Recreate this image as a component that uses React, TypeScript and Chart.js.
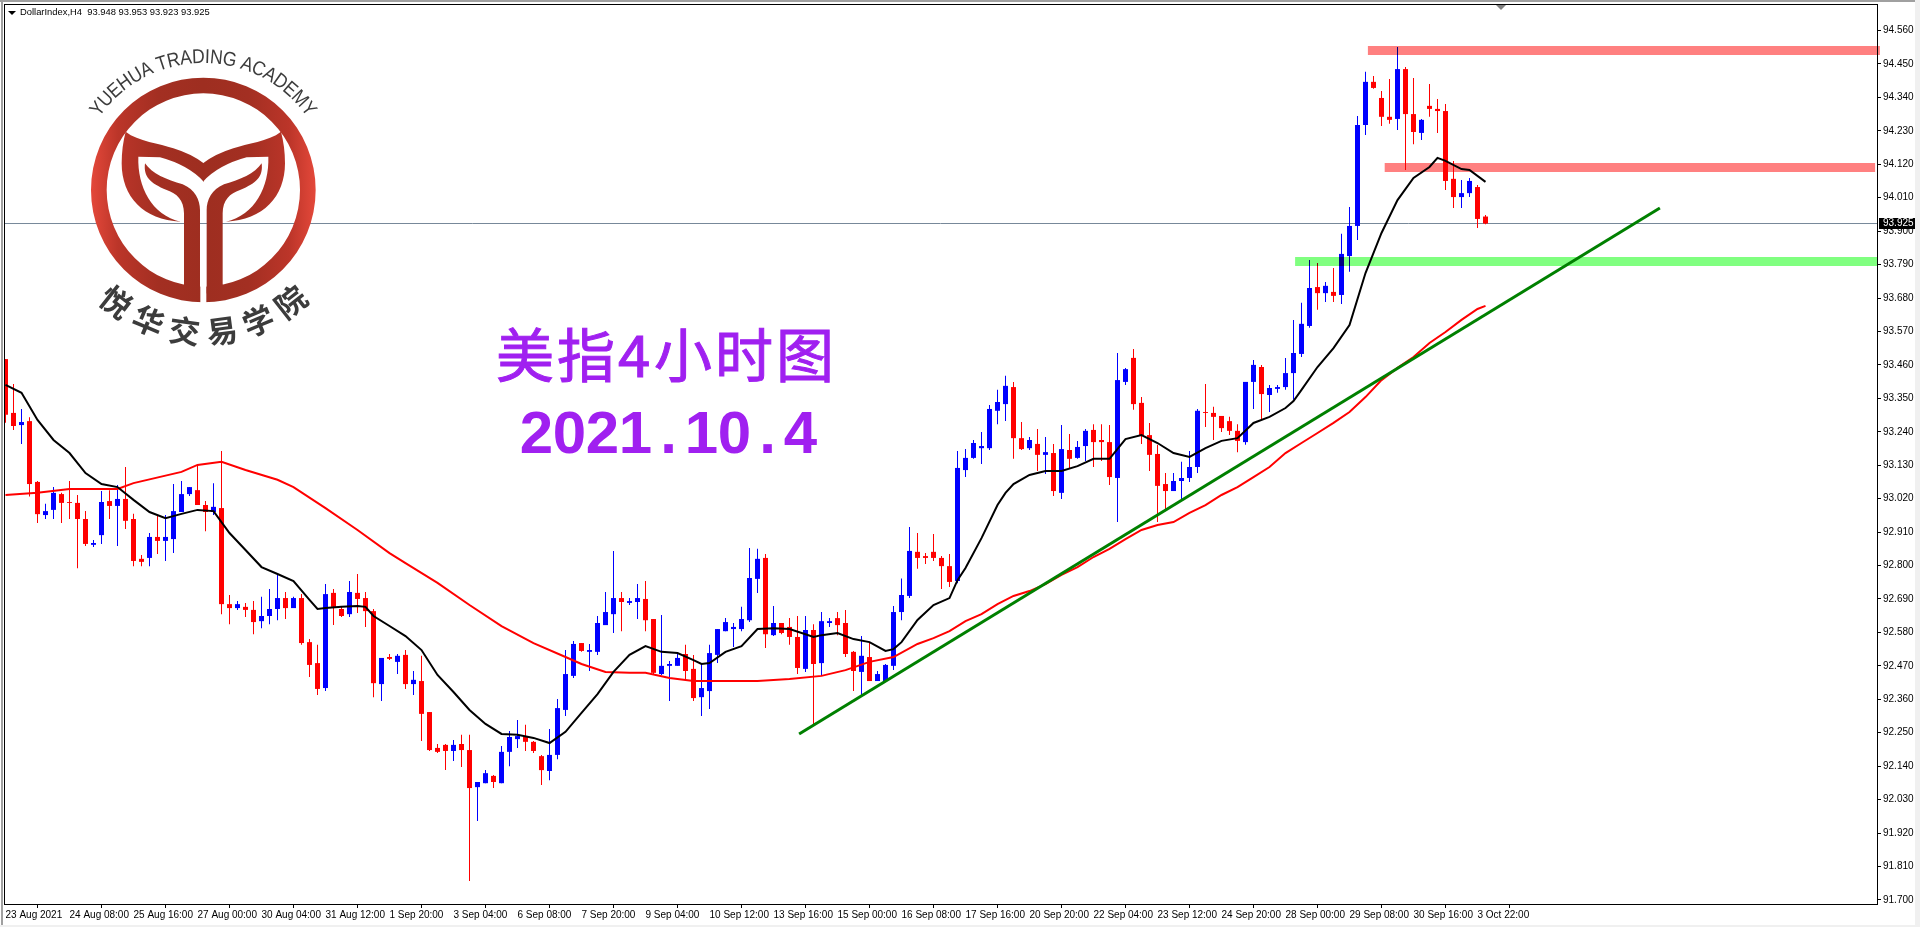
import React, { useEffect, useRef } from "react";
import { Chart, registerables } from "chart.js";

Chart.register(...registerables);

const opens = [93.479,93.302,93.262,93.275,93.075,92.966,92.983,93.035,93.009,93.006,92.953,92.868,92.900,93.012,92.996,93.019,92.953,92.822,92.825,92.894,92.881,92.887,92.976,93.035,93.048,92.999,92.976,92.989,92.673,92.660,92.664,92.654,92.617,92.634,92.657,92.693,92.660,92.693,92.548,92.479,92.397,92.710,92.657,92.640,92.710,92.693,92.650,92.410,92.499,92.483,92.506,92.410,92.420,92.318,92.200,92.210,92.190,92.213,92.193,92.071,92.084,92.108,92.084,92.187,92.229,92.236,92.220,92.173,92.124,92.177,92.325,92.437,92.545,92.516,92.516,92.604,92.640,92.693,92.677,92.680,92.690,92.624,92.443,92.470,92.470,92.509,92.460,92.367,92.387,92.506,92.584,92.591,92.591,92.620,92.756,92.825,92.571,92.611,92.598,92.565,92.460,92.588,92.479,92.611,92.627,92.611,92.516,92.450,92.499,92.420,92.420,92.470,92.647,92.700,92.845,92.831,92.845,92.825,92.798,92.749,93.114,93.154,93.186,93.186,93.309,93.331,93.387,93.219,93.186,93.200,93.164,93.170,93.039,93.180,93.154,93.193,93.246,93.213,93.206,93.088,93.404,93.483,93.335,93.229,93.167,93.068,93.045,93.078,93.088,93.124,93.305,93.302,93.292,93.275,93.243,93.206,93.404,93.453,93.361,93.381,93.387,93.433,93.496,93.588,93.716,93.696,93.700,93.690,93.818,93.917,94.249,94.391,94.338,94.276,94.269,94.433,94.285,94.223,94.312,94.302,94.295,94.072,94.012,94.025,94.045,93.948];

const closes = [93.296,93.259,93.272,93.068,92.969,92.979,93.039,93.006,93.006,92.953,92.871,92.874,93.009,92.996,93.019,92.947,92.815,92.812,92.894,92.881,92.894,92.979,93.035,93.058,92.999,92.976,92.993,92.673,92.660,92.673,92.654,92.614,92.634,92.657,92.693,92.660,92.693,92.545,92.473,92.394,92.706,92.664,92.634,92.713,92.690,92.650,92.413,92.496,92.493,92.503,92.410,92.424,92.312,92.193,92.187,92.190,92.210,92.193,92.068,92.088,92.117,92.088,92.187,92.236,92.239,92.220,92.190,92.127,92.177,92.331,92.443,92.542,92.519,92.522,92.611,92.647,92.693,92.680,92.683,92.693,92.620,92.447,92.470,92.476,92.496,92.453,92.364,92.397,92.512,92.591,92.614,92.598,92.624,92.759,92.822,92.574,92.611,92.578,92.565,92.463,92.588,92.476,92.617,92.617,92.604,92.509,92.453,92.503,92.420,92.443,92.473,92.647,92.703,92.848,92.825,92.825,92.825,92.798,92.746,93.121,93.154,93.203,93.193,93.315,93.338,93.391,93.219,93.183,93.213,93.164,93.173,93.045,93.183,93.151,93.190,93.243,93.206,93.206,93.091,93.410,93.446,93.331,93.229,93.164,93.062,93.045,93.078,93.088,93.124,93.309,93.302,93.289,93.252,93.243,93.210,93.404,93.460,93.364,93.384,93.387,93.433,93.499,93.595,93.713,93.696,93.720,93.687,93.825,93.917,94.249,94.391,94.371,94.276,94.266,94.433,94.285,94.226,94.266,94.302,94.295,94.065,94.012,94.025,94.065,93.940,93.925];

const highs = [93.479,93.397,93.315,93.288,93.078,93.003,93.058,93.039,93.078,93.032,92.979,92.884,93.045,93.048,93.065,93.124,92.970,92.835,92.907,92.963,92.966,93.068,93.078,93.058,93.131,93.012,93.071,93.177,92.703,92.683,92.677,92.683,92.697,92.723,92.769,92.713,92.697,92.706,92.558,92.539,92.739,92.723,92.667,92.749,92.772,92.713,92.657,92.496,92.509,92.509,92.522,92.453,92.503,92.318,92.213,92.213,92.226,92.243,92.243,92.088,92.127,92.111,92.206,92.256,92.292,92.276,92.223,92.177,92.262,92.361,92.522,92.552,92.545,92.542,92.634,92.713,92.848,92.713,92.693,92.739,92.749,92.624,92.637,92.486,92.509,92.539,92.506,92.476,92.539,92.591,92.627,92.611,92.664,92.858,92.855,92.838,92.667,92.611,92.627,92.634,92.634,92.607,92.647,92.627,92.647,92.654,92.519,92.568,92.548,92.453,92.476,92.667,92.757,92.927,92.907,92.841,92.904,92.831,92.838,93.177,93.183,93.213,93.239,93.328,93.378,93.424,93.404,93.272,93.223,93.249,93.223,93.200,93.262,93.233,93.210,93.249,93.265,93.265,93.262,93.499,93.450,93.512,93.354,93.269,93.197,93.104,93.104,93.141,93.177,93.315,93.397,93.322,93.292,93.289,93.265,93.404,93.476,93.460,93.394,93.394,93.483,93.608,93.664,93.805,93.795,93.733,93.779,93.891,93.979,94.279,94.424,94.410,94.361,94.400,94.506,94.440,94.404,94.269,94.384,94.335,94.318,94.131,94.068,94.075,94.052,93.953];

const lows = [93.270,93.246,93.200,93.027,92.940,92.953,92.953,92.940,92.953,92.791,92.864,92.861,92.871,92.953,92.864,92.920,92.798,92.798,92.798,92.838,92.815,92.841,92.976,93.029,92.999,92.913,92.966,92.640,92.607,92.654,92.631,92.574,92.594,92.607,92.620,92.624,92.660,92.539,92.433,92.374,92.387,92.604,92.631,92.631,92.644,92.598,92.367,92.354,92.489,92.443,92.394,92.374,92.223,92.190,92.183,92.127,92.157,92.137,91.762,91.960,92.084,92.068,92.084,92.140,92.200,92.190,92.183,92.078,92.094,92.163,92.305,92.430,92.516,92.453,92.506,92.604,92.578,92.584,92.670,92.624,92.584,92.440,92.440,92.354,92.470,92.424,92.354,92.305,92.328,92.479,92.584,92.532,92.584,92.614,92.710,92.529,92.568,92.574,92.539,92.443,92.450,92.279,92.437,92.598,92.571,92.499,92.387,92.374,92.420,92.420,92.420,92.456,92.620,92.693,92.789,92.805,92.815,92.723,92.729,92.742,93.091,93.151,93.134,93.180,93.265,93.275,93.151,93.180,93.180,93.111,93.101,93.029,93.019,93.121,93.151,93.144,93.124,93.144,93.065,92.943,93.394,93.312,93.200,93.111,92.943,92.983,93.045,93.019,93.075,93.104,93.256,93.213,93.239,93.229,93.173,93.197,93.315,93.279,93.305,93.368,93.378,93.345,93.486,93.582,93.641,93.667,93.667,93.660,93.766,93.871,94.216,94.368,94.246,94.253,94.233,94.101,94.186,94.200,94.276,94.223,94.035,93.976,93.976,94.012,93.910,93.923];

const timeLabels = ["23 Aug 2021","24 Aug 08:00","25 Aug 16:00","27 Aug 00:00","30 Aug 04:00","31 Aug 12:00","1 Sep 20:00","3 Sep 04:00","6 Sep 08:00","7 Sep 20:00","9 Sep 04:00","10 Sep 12:00","13 Sep 16:00","15 Sep 00:00","16 Sep 08:00","17 Sep 16:00","20 Sep 20:00","22 Sep 04:00","23 Sep 12:00","24 Sep 20:00","28 Sep 00:00","29 Sep 08:00","30 Sep 16:00","3 Oct 22:00"];
const timeLabelBars = timeLabels.map((_, k) => k * 8);

const priceTicks = [94.56,94.45,94.34,94.23,94.12,94.01,93.90,93.79,93.68,93.57,93.46,93.35,93.24,93.13,93.02,92.91,92.80,92.69,92.58,92.47,92.36,92.25,92.14,92.03,91.92,91.81,91.70];

const blackBars = [0,2,4,6,8,10,12,14,16,18,20,22,24,26,28,30,32,34,36,38,39,40,42,44,45,46,48,50,52,54,56,58,60,62,64,66,68,70,72,74,76,78,80,82,84,86,87,88,90,92,94,96,98,100,101,102,104,106,108,110,111,112,114,116,118,119,120,122,124,125,126,128,130,132,134,136,138,140,142,144,146,148,150,152,154,156,158,160,161,162,164,166,168,170,172,174,176,178,179,180,182,183,185];
const blackValues = [93.394,93.368,93.279,93.213,93.170,93.104,93.068,93.058,93.016,92.976,92.956,92.970,92.983,92.979,92.907,92.851,92.795,92.772,92.749,92.687,92.657,92.660,92.664,92.667,92.664,92.634,92.601,92.568,92.522,92.440,92.384,92.325,92.279,92.246,92.243,92.233,92.216,92.253,92.315,92.377,92.450,92.506,92.535,92.516,92.512,92.489,92.476,92.479,92.516,92.535,92.591,92.594,92.591,92.574,92.565,92.571,92.578,92.558,92.548,92.519,92.525,92.548,92.621,92.670,92.693,92.752,92.792,92.890,92.999,93.039,93.068,93.098,93.111,93.111,93.127,93.151,93.151,93.216,93.229,93.203,93.170,93.157,93.186,93.210,93.219,93.269,93.289,93.318,93.341,93.378,93.453,93.515,93.591,93.762,93.894,94.002,94.075,94.111,94.141,94.131,94.104,94.101,94.062];

const redBars = [0,4,8,14,16,22,24,27,30,34,36,40,44,48,50,54,58,62,66,70,72,75,78,80,83,86,90,94,98,102,105,108,111,114,116,118,120,122,124,126,128,130,132,134,136,138,140,142,144,146,148,150,152,154,156,158,160,162,164,166,168,170,172,174,176,178,180,182,184,185];
const redValues = [93.032,93.039,93.052,93.052,93.071,93.108,93.131,93.141,93.114,93.082,93.058,92.989,92.917,92.841,92.808,92.743,92.670,92.601,92.545,92.499,92.476,92.450,92.447,92.447,92.430,92.420,92.420,92.420,92.427,92.437,92.456,92.483,92.499,92.542,92.561,92.584,92.617,92.640,92.673,92.700,92.716,92.739,92.769,92.795,92.828,92.855,92.887,92.917,92.933,92.943,92.973,92.999,93.032,93.058,93.091,93.124,93.170,93.203,93.236,93.269,93.305,93.354,93.410,93.450,93.486,93.532,93.568,93.608,93.644,93.654];

const trendBars = [99.2, 206.8];
const trendValues = [92.246, 93.976];

const lastPrice = 93.925;
const resistanceHigh = 94.494;
const resistanceLow = 94.109;
const supportLevel = 93.8;
const resistanceHighBars = [170.3, 234.3];
const resistanceLowBars = [172.4, 233.7];
const supportBars = [161.2, 233.94];

const headerText = "DollarIndex,H4  93.948 93.953 93.923 93.925";
const titleCn = "美指4小时图";
const titleDate = "2021.10.4";
const logoEn = "YUEHUA TRADING ACADEMY";
const logoCn = "悦华交易学院";

const X_MIN = -0.1875;
const X_MAX = 233.9375;
const Y_MAX = 94.6471;
const Y_MIN = 91.6866;

const pairs = (xs: number[], ys: number[]) => xs.map((x, k) => ({ x, y: ys[k] }));
const flat = (xs: number[], y: number) => xs.map((x) => ({ x, y }));

const bars = opens.map((_, i) => i);
const colourOf = (i: number) => (closes[i] >= opens[i] ? "#0000ff" : "#ff0000");

const drawLogo = (ctx: CanvasRenderingContext2D) => {
  ctx.save();
  ctx.translate(60, 0);
  ctx.scale(1 / 3, 1 / 3);
  const g = ctx.createLinearGradient(93, 0, 767, 0);
  g.addColorStop(0, "#e4483a");
  g.addColorStop(0.12, "#bb3529");
  g.addColorStop(0.3, "#a32f22");
  g.addColorStop(0.5, "#9e2e20");
  g.addColorStop(0.7, "#a32f22");
  g.addColorStop(0.88, "#bb3529");
  g.addColorStop(1, "#e4483a");
  ctx.fillStyle = g;
  ctx.beginPath();
  ctx.arc(430, 570, 337, 0, Math.PI * 2);
  ctx.arc(430, 570, 290, 0, Math.PI * 2, true);
  ctx.fill();
  const half = () => {
    ctx.beginPath();
    ctx.moveTo(197, 395);
    ctx.bezierCurveTo(235, 425, 300, 430, 340, 445);
    ctx.quadraticCurveTo(395, 462, 431, 490);
    ctx.lineTo(431, 545);
    ctx.quadraticCurveTo(385, 495, 300, 472);
    ctx.lineTo(235, 470);
    ctx.bezierCurveTo(232, 560, 275, 645, 362, 665);
    ctx.bezierCurveTo(250, 660, 185, 590, 185, 490);
    ctx.quadraticCurveTo(185, 440, 197, 395);
    ctx.closePath();
    ctx.fill();
    ctx.beginPath();
    ctx.moveTo(255, 490);
    ctx.bezierCurveTo(275, 520, 320, 540, 368, 553);
    ctx.bezierCurveTo(405, 568, 420, 600, 420, 630);
    ctx.lineTo(420, 880);
    ctx.quadraticCurveTo(410, 897, 385, 903);
    ctx.lineTo(360, 880);
    ctx.lineTo(372, 853);
    ctx.lineTo(372, 640);
    ctx.bezierCurveTo(372, 600, 350, 580, 320, 570);
    ctx.bezierCurveTo(270, 550, 250, 530, 255, 490);
    ctx.closePath();
    ctx.fill();
  };
  ctx.fillStyle = "#ffffff";
  ctx.fillRect(421, 840, 18, 75);
  ctx.fillStyle = g;
  half();
  ctx.save();
  ctx.translate(860, 0);
  ctx.scale(-1, 1);
  half();
  ctx.restore();
  ctx.restore();

  const cx = 203.3;
  const cy = 190;
  ctx.fillStyle = "#3c3c3c";
  ctx.textAlign = "center";
  ctx.textBaseline = "alphabetic";
  ctx.font = "20px 'Liberation Sans'";
  const widths = Array.from(logoEn).map((c) => ctx.measureText(c).width);
  const total = widths.reduce((a, b) => a + b, 0);
  const span = (110 * Math.PI) / 180;
  let run = 0;
  Array.from(logoEn).forEach((c, k) => {
    const a = -span / 2 + ((run + widths[k] / 2) / total) * span;
    run += widths[k];
    ctx.save();
    ctx.translate(cx + 127 * Math.sin(a), cy - 127 * Math.cos(a));
    ctx.rotate(a);
    ctx.scale(0.88, 1);
    ctx.fillText(c, 0, 0);
    ctx.restore();
  });
  ctx.font = "bold 31px 'Noto Sans CJK SC'";
  ctx.textBaseline = "middle";
  Array.from(logoCn).forEach((c, k) => {
    const a = ((38 - (k * 76) / 5) * Math.PI) / 180;
    ctx.save();
    ctx.translate(cx - 142 * Math.sin(a), cy + 142 * Math.cos(a));
    ctx.rotate(a);
    ctx.fillText(c, 0, 0);
    ctx.restore();
  });
};

const decorations = {
  id: "decorations",
  beforeDraw(chart: any) {
    const { ctx, width, height } = chart;
    ctx.save();
    ctx.fillStyle = "#ffffff";
    ctx.fillRect(0, 0, width, height);
    ctx.restore();
  },
  beforeDatasetDraw(chart: any, args: any) {
    if (chart.data.datasets[args.index].zone) {
      chart.ctx.save();
      chart.ctx.globalCompositeOperation = "multiply";
    }
  },
  afterDatasetDraw(chart: any, args: any) {
    if (chart.data.datasets[args.index].zone) chart.ctx.restore();
  },
  afterDraw(chart: any) {
    const { ctx, width, height } = chart;
    ctx.save();
    // window frame
    ctx.fillStyle = "#a0a0a0";
    ctx.fillRect(0, 0, width, 2);
    ctx.fillRect(1, 0, 2, height - 2);
    ctx.fillStyle = "#f0f0f0";
    ctx.fillRect(0, 925, width, 2);
    ctx.fillRect(1915, 0, 5, height);
    // plot frame
    ctx.strokeStyle = "#000000";
    ctx.lineWidth = 1;
    ctx.strokeRect(4.5, 4.5, 1873, 900);
    // header
    ctx.fillStyle = "#000000";
    ctx.beginPath();
    ctx.moveTo(8, 11);
    ctx.lineTo(16, 11);
    ctx.lineTo(12, 15);
    ctx.closePath();
    ctx.fill();
    ctx.font = "9.4px 'Liberation Sans'";
    ctx.textAlign = "left";
    ctx.textBaseline = "middle";
    ctx.fillText(headerText, 20, 12.5);
    // shift marker
    ctx.fillStyle = "#808080";
    ctx.beginPath();
    ctx.moveTo(1496, 5);
    ctx.lineTo(1506, 5);
    ctx.lineTo(1501, 10);
    ctx.closePath();
    ctx.fill();
    // current price tag
    ctx.fillStyle = "#000000";
    ctx.fillRect(1879, 218, 36, 11);
    ctx.fillStyle = "#ffffff";
    ctx.font = "10px 'Liberation Sans'";
    ctx.fillText(lastPrice.toFixed(3), 1883, 223.5);
    drawLogo(ctx);
    // big title
    ctx.fillStyle = "#a020f0";
    ctx.strokeStyle = "#a020f0";
    ctx.lineWidth = 1;
    ctx.textBaseline = "middle";
    ctx.textAlign = "left";
    ctx.font = "58px 'Noto Sans CJK SC'";
    let tx = 496;
    Array.from(titleCn).forEach((c) => {
      ctx.fillText(c, tx, 355);
      ctx.strokeText(c, tx, 355);
      tx += c === "4" ? 36 : 61;
    });
    ctx.font = "bold 60px 'Liberation Sans'";
    ctx.textAlign = "center";
    Array.from(titleDate).forEach((c, k) => {
      ctx.fillText(c, 520 + 33 * k + 16.5, 436);
    });
    ctx.restore();
  },
};

const noMargins = (s: any) => {
  s.paddingTop = 0;
  s.paddingBottom = 0;
  s.paddingLeft = 0;
  s.paddingRight = 0;
};

export default function App() {
  const ref = useRef<HTMLCanvasElement | null>(null);
  useEffect(() => {
    document.body.style.margin = "0";
    const line = (data: any[], color: string, width: number, order: number, extra: any = {}) => ({
      type: "line",
      data,
      borderColor: color,
      borderWidth: width,
      pointRadius: 0,
      tension: 0,
      fill: false,
      order,
      ...extra,
    });
    const chart = new Chart(ref.current as HTMLCanvasElement, {
      type: "bar",
      data: {
        datasets: [
          line(flat([X_MIN, X_MAX], lastPrice), "#778899", 1, 20),
          {
            type: "bar",
            data: bars.map((i) => ({ x: i, y: [lows[i], highs[i]] })),
            backgroundColor: bars.map(colourOf),
            barThickness: 1,
            grouped: false,
            borderWidth: 0,
            inflateAmount: 0,
            order: 12,
          },
          {
            type: "bar",
            data: bars.map((i) => ({ x: i, y: [opens[i], closes[i]] })),
            backgroundColor: bars.map(colourOf),
            barThickness: 5,
            grouped: false,
            borderWidth: 0,
            inflateAmount: 0,
            order: 11,
          },
          line(flat(resistanceHighBars, resistanceHigh), "#ff8080", 9, 6, { zone: true, clip: 4, borderCapStyle: "butt" }),
          line(flat(resistanceLowBars, resistanceLow), "#ff8080", 9, 5, { zone: true, borderCapStyle: "butt" }),
          line(flat(supportBars, supportLevel), "#80ff80", 9, 4, { zone: true, borderCapStyle: "butt" }),
          line(pairs(redBars, redValues), "#ff0000", 2, 3),
          line(pairs(blackBars, blackValues), "#000000", 2, 2),
          line(pairs(trendBars, trendValues), "#008000", 3, 1, { clip: 0 }),
        ] as any,
      },
      options: {
        animation: false,
        responsive: false,
        maintainAspectRatio: false,
        events: [],
        layout: { padding: { left: 4, top: 4, right: 0, bottom: 0 } },
        plugins: { legend: { display: false }, tooltip: { enabled: false }, title: { display: false } },
        scales: {
          x: {
            type: "linear",
            min: X_MIN,
            max: X_MAX,
            offset: false,
            afterFit: (s: any) => {
              s.height = 23;
              noMargins(s);
            },
            afterBuildTicks: (s: any) => {
              s.ticks = timeLabelBars.map((value) => ({ value }));
            },
            grid: { drawOnChartArea: false, drawTicks: true, tickLength: 4, tickColor: "#000000" },
            border: { display: false },
            ticks: {
              autoSkip: false,
              maxRotation: 0,
              minRotation: 0,
              align: "start",
              padding: 1,
              color: "#000000",
              font: { family: "'Liberation Sans'", size: 10 },
              callback: (v: any) => timeLabels[Math.round(Number(v) / 8)] ?? "",
            },
          },
          y: {
            type: "linear",
            position: "right",
            min: Y_MIN,
            max: Y_MAX,
            afterFit: (s: any) => {
              s.width = 43;
              noMargins(s);
            },
            afterBuildTicks: (s: any) => {
              s.ticks = priceTicks.map((value) => ({ value }));
            },
            grid: { drawOnChartArea: false, drawTicks: true, tickLength: 4, tickColor: "#000000" },
            border: { display: false },
            ticks: {
              autoSkip: false,
              padding: 2,
              color: "#000000",
              font: { family: "'Liberation Sans'", size: 10 },
              callback: (v: any) => Number(v).toFixed(3),
            },
          },
        },
      } as any,
      plugins: [decorations],
    } as any);
    return () => chart.destroy();
  }, []);
  return (
    <canvas
      ref={ref}
      width={1920}
      height={927}
      style={{ position: "fixed", left: 0, top: 0, width: 1920, height: 927, display: "block" }}
    />
  );
}
